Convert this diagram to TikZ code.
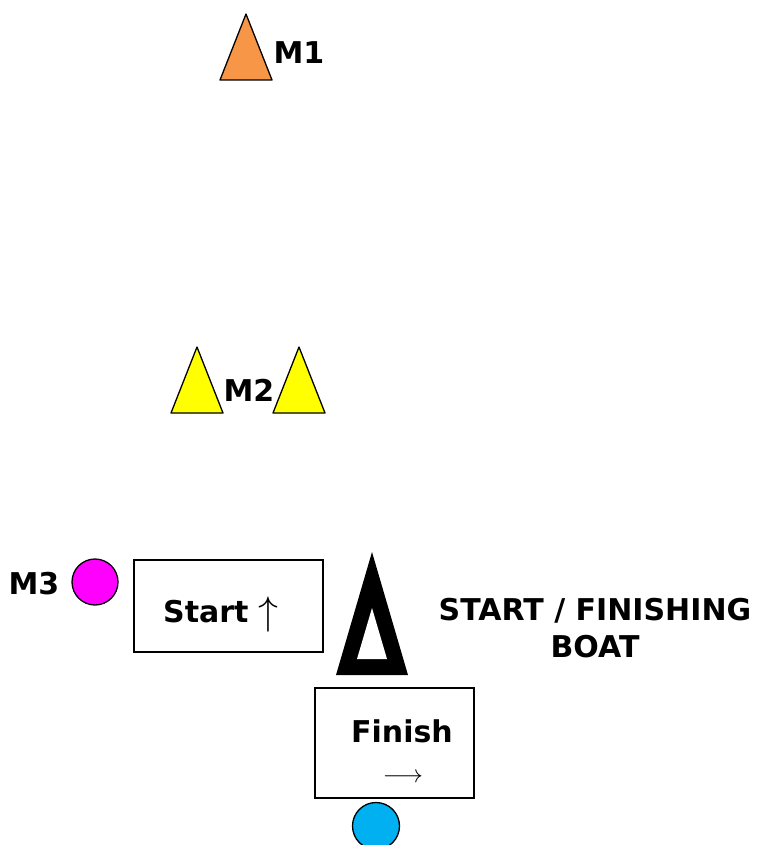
\documentclass[tikz,border=0pt]{standalone}
\usepackage{fontspec}
\setmainfont{DejaVu Sans}
\usetikzlibrary{calc}
\definecolor{markorange}{HTML}{F79646}
\definecolor{markyellow}{HTML}{FFFF00}
\definecolor{markmagenta}{HTML}{FF00FF}
\definecolor{markblue}{HTML}{00B0F0}

\tikzset{
	lbl/.style={font=\fontsize{30}{37}\selectfont\bfseries, inner sep=0pt},
	buoy/.style={draw=black, line width=1.3pt, line join=round},
	box/.style={draw=black, line width=1.1pt}
}

\begin{document}
\begin{tikzpicture}[x=1pt,y=-1pt]
				\useasboundingbox (0,0) rectangle (758,845);
				
				% top marks
				\coordinate (m1) at (246,14);
				\coordinate (m2a) at (197,347);
				\coordinate (m2b) at (299,347);
				
				\filldraw[buoy, fill=markorange]
				(m1) -- ($(m1)+(-26,66)$) -- ($(m1)+(26,66)$) -- cycle;
				\node[lbl] (lm1) at (299,53) {M1};
				
				\foreach \x in {m2a,m2b}{
					\filldraw[buoy, fill=markyellow] (\x) -- ($(\x)+(-26,66)$) -- ($(\x)+(26,66)$) -- cycle;}
				\node[lbl] (lm2) at (249,390) {M2};
				
				% start line
				\node[buoy, fill=markmagenta, circle, minimum size=46pt, inner sep=0pt] (m3) at (95,582) {};
				\node[lbl] (lm3) at (34,584) {M3};
				
				\draw[box] (134,560) rectangle (323,652);
				\node[lbl] (start) at (221,615) {Start \raisebox{-2pt}{\scalebox{1.6}{$\uparrow$}}};
				
				% boat
				\coordinate (b) at (372,552);
				\coordinate (bi) at (372,608);
				\fill[black] (b) -- ($(b)+(-36,123)$) -- ($(b)+(36,123)$) -- cycle;
				\fill[white] (bi) -- ($(bi)+(-15,51)$) -- ($(bi)+(15,51)$) -- cycle;
				\node[lbl, align=center] (boat) at (595,628) {START / FINISHING\\BOAT};
				
				% finish line
				\draw[box] (315,688) rectangle (474,798);
				\node[lbl] (finish) at (402,731) {Finish};
				\node[font=\fontsize{28}{34}\selectfont, inner sep=0pt] (farrow) at (403,778) {$\longrightarrow$};
				\node[buoy, fill=markblue, circle, minimum size=47pt, inner sep=0pt] (m4) at (376,826) {};
			\end{tikzpicture}
\end{document}
